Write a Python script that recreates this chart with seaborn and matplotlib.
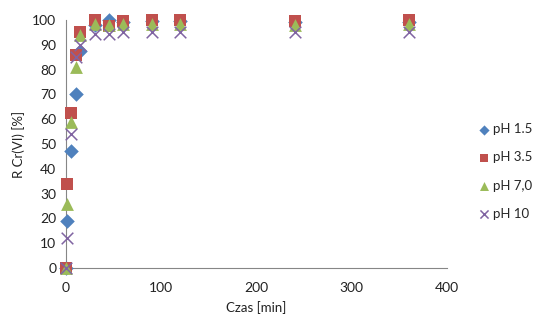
import matplotlib
matplotlib.use("Agg")
import matplotlib.pyplot as plt
import seaborn as sns
import pandas as pd

# Reaction time [min]
czas = [0, 1, 5, 10, 15, 30, 45, 60, 90, 120, 240, 360]

# Cr(VI) removal [%] for each pH
ph_1_5 = [0, 19, 47, 70, 87.5, 98, 100, 99, 99.5, 99.5, 99, 99]
ph_3_5 = [0, 34, 62.5, 86, 95, 100, 97.5, 99.5, 100, 100, 99.5, 100]
ph_7_0 = [0, 26, 59, 81, 94, 98.5, 98, 98.5, 98.5, 98.5, 98, 98.5]
ph_10 = [0, 12, 54, 85, 90, 94.5, 94.5, 95, 95, 95, 95, 95]

serie = ["pH 1.5", "pH 3.5", "pH 7,0", "pH 10"]
kolory = ["#4F81BD", "#C0504D", "#9BBB59", "#8064A2"]
znaczniki = ["D", "s", "^", "x"]
rozmiary = [55, 85, 85, 70]

df = pd.DataFrame({"Czas [min]": czas, "pH 1.5": ph_1_5, "pH 3.5": ph_3_5,
                   "pH 7,0": ph_7_0, "pH 10": ph_10})

sns.set_style("white")
plt.rcParams["font.family"] = ["Lato", "DejaVu Sans"]

fig = plt.figure(figsize=(5.38, 3.20), dpi=100)
ax = fig.add_axes([0.1227, 0.1625, 0.7082, 0.775])

for i, (name, col, mk, sz) in enumerate(zip(serie, kolory, znaczniki, rozmiary)):
    kw = dict(linewidth=1.1) if mk == "x" else dict(linewidth=0)
    sns.scatterplot(data=df, x="Czas [min]", y=name, color=col, marker=mk,
                    s=sz, label=name, ax=ax, clip_on=False, zorder=3 + i, **kw)

ax.set_xlim(0, 400)
ax.set_ylim(0, 100)
ax.set_xticks(range(0, 401, 100))
ax.set_yticks(range(0, 101, 10))

fs = 10
for side in ["top", "right"]:
    ax.spines[side].set_visible(False)
for side in ["left", "bottom"]:
    ax.spines[side].set_color("#868686")
    ax.spines[side].set_linewidth(0.8)
ax.tick_params(axis="both", direction="out", length=4, width=0.8,
               color="#868686", labelsize=fs, labelcolor="#222222", pad=3)
ax.tick_params(axis="x", pad=6)
ax.set_xlabel("Czas [min]", fontsize=fs - 0.5, color="#222222", labelpad=5)
ax.set_ylabel("R Cr(VI) [%]", fontsize=fs - 0.5, color="#222222", labelpad=5)

handles, labels = ax.get_legend_handles_labels()
ax.legend(handles, labels, loc="center left", bbox_to_anchor=(0.889, 0.464),
          bbox_transform=fig.transFigure, frameon=False, fontsize=9.5,
          labelspacing=1.23, handletextpad=0.25, handlelength=0.9,
          borderpad=0, borderaxespad=0, markerscale=0.7)

fig.savefig("out.png", dpi=100)
